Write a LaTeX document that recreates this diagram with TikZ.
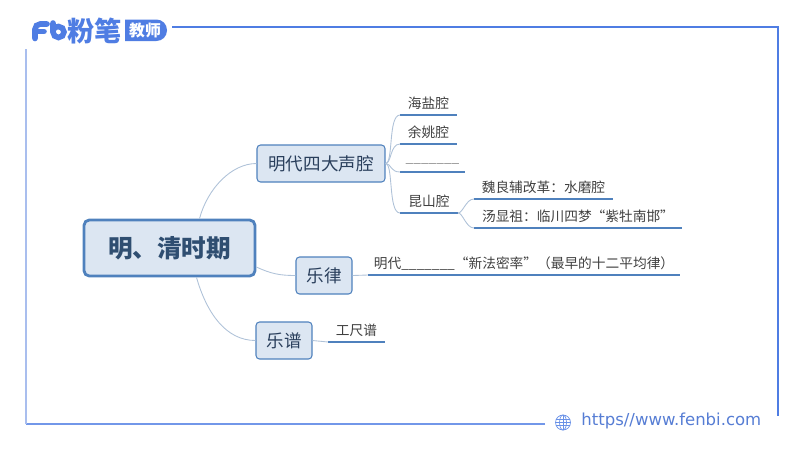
\documentclass[tikz,border=0pt]{standalone}
\usepackage{fontspec}
\setmainfont{Noto Sans CJK SC}
\newfontfamily\urlfont{DejaVu Sans}
\definecolor{logoblue}{HTML}{4F7DE3}
\definecolor{framelight}{HTML}{A9BEEE}
\definecolor{boxfill}{HTML}{DCE6F2}
\definecolor{boxline}{HTML}{4F81BD}
\definecolor{twig}{HTML}{AFC2D8}
\definecolor{boxtext}{HTML}{2A3F5C}
\tikzset{
  topic/.style={draw=boxline,fill=boxfill,line width=.6pt,rounded corners=2pt,inner sep=0pt,text=boxtext,font=\fontsize{10}{12}\selectfont},
  leaf/.style={anchor=south,inner sep=0pt,text=black!75,font=\fontsize{7.8}{9}\selectfont,minimum height=.42cm},
  rule/.style={boxline,line width=1pt},
  twigline/.style={twig,line width=.5pt},
}
\begin{document}
\begin{tikzpicture}[x=.02cm,y=-.02cm]
  \useasboundingbox (0,0) rectangle (800,450);
  % frame
  \draw[logoblue,line width=.8pt] (172,27) -- (778,27) -- (778,416);
  \draw[logoblue!80,line width=.8pt] (545,424) -- (26,424);
  \draw[framelight,line width=.8pt] (26,424) -- (26,49);
  % logo
  \draw[logoblue,line width=3.2pt,line cap=round,rounded corners=3pt] (35,38.5) -- (35,24) -- (47,24);
  \draw[logoblue,line width=3.2pt,line cap=round] (35,31.5) -- (44,31.5);
  \draw[logoblue,line width=3.2pt,line cap=round] (53,23) -- (53,32) arc (180:-140:5.5);
  \node[text=logoblue,inner sep=0pt,font=\fontsize{15.5}{17}\bfseries\selectfont] (brand) at (94.5,30.5) {粉笔};
  \fill[logoblue] (125,19.5) [rounded corners=6pt] -- (167,19.5) -- (167,41) [sharp corners] -- (125,41) -- cycle;
  \node[text=white,inner sep=0pt,font=\fontsize{9}{10}\bfseries\selectfont] (teacher) at (145,30.5) {教师};
  % globe and address
  \begin{scope}[logoblue!85,line width=.4pt]
    \draw (563,422.5) circle (7.5);
    \draw (563,422.5) ellipse (3.5 and 7.5);
    \foreach \y in {-3,0,3}
    \draw (555.8,422.5+\y) -- (570.2,422.5+\y);
    \draw (563,415) -- (563,430);
  \end{scope}
  \node[anchor=west,inner sep=0pt,text=logoblue!85!gray,font=\urlfont\fontsize{9.4}{11}\selectfont] (site) at (581,421) {https//www.fenbi.com};
  % topics
  \node[topic,draw=boxline,line width=1.6pt,rounded corners=3pt,minimum width=3.42cm,minimum height=1.12cm,font=\fontsize{14}{16}\bfseries\selectfont,text=boxline!60!black] (qing) at (169.5,248) {明、清时期};
  \node[topic,minimum width=2.56cm,minimum height=.74cm] (sq) at (321,163.5) {明代四大声腔};
  \node[topic,minimum width=1.12cm,minimum height=.74cm] (yl) at (324,275.5) {乐律};
  \node[topic,minimum width=1.12cm,minimum height=.74cm] (yp) at (284,340.5) {乐谱};
  % leaves: name/text/left/right/line y
  \foreach \n/\t/\xa/\xb/\y in {hy/海盐腔/400/457/115, yy/余姚腔/400/457/144, kk/{}/400/465/172, ks/昆山腔/400/458/213, wl/魏良辅改革：水磨腔/474/613/199, tx/汤显祖：临川四梦“紫牡南邯”/474/682/228, ml/明代\_\_\_\_\_\_\_“新法密率”（最早的十二平均律）/368/680/275, gc/工尺谱/328/385/342}{
    \coordinate (\n a) at (\xa,\y);
    \coordinate (\n b) at (\xb,\y);
    \node[leaf] (\n) at (\xa/2+\xb/2,\y-1) {\t};
    \draw[rule] (\n a) -- (\n b);
  }
  \node[leaf,text=black!45] (blank) at (432.5,174) {\_\_\_\_\_\_\_};
  % connectors
  \draw[twigline] (qing.north) ++(30,0) .. controls +(8,-30) and +(-25,0) .. (sq.west);
  \draw[twigline] (qing.east) ++(0,19) .. controls +(15,7) and +(-15,0) .. (yl.west);
  \draw[twigline] (qing.south) ++(27,0) .. controls +(10,35) and +(-30,0) .. (yp.west);
  \foreach \n/\s in {hya/8,yya/6,kka/6,ksa/8}
  \draw[twigline] (sq.east) .. controls +(\s,0) and +(-\s-4,0) .. (\n);
  \foreach \n in {wla,txa}
  \draw[twigline] (ksb) .. controls +(5,0) and +(-8,0) .. (\n);
  \draw[twigline] (yl.east) -- (mla);
  \draw[twigline] (yp.east) -- (gca);
\end{tikzpicture}
\end{document}
